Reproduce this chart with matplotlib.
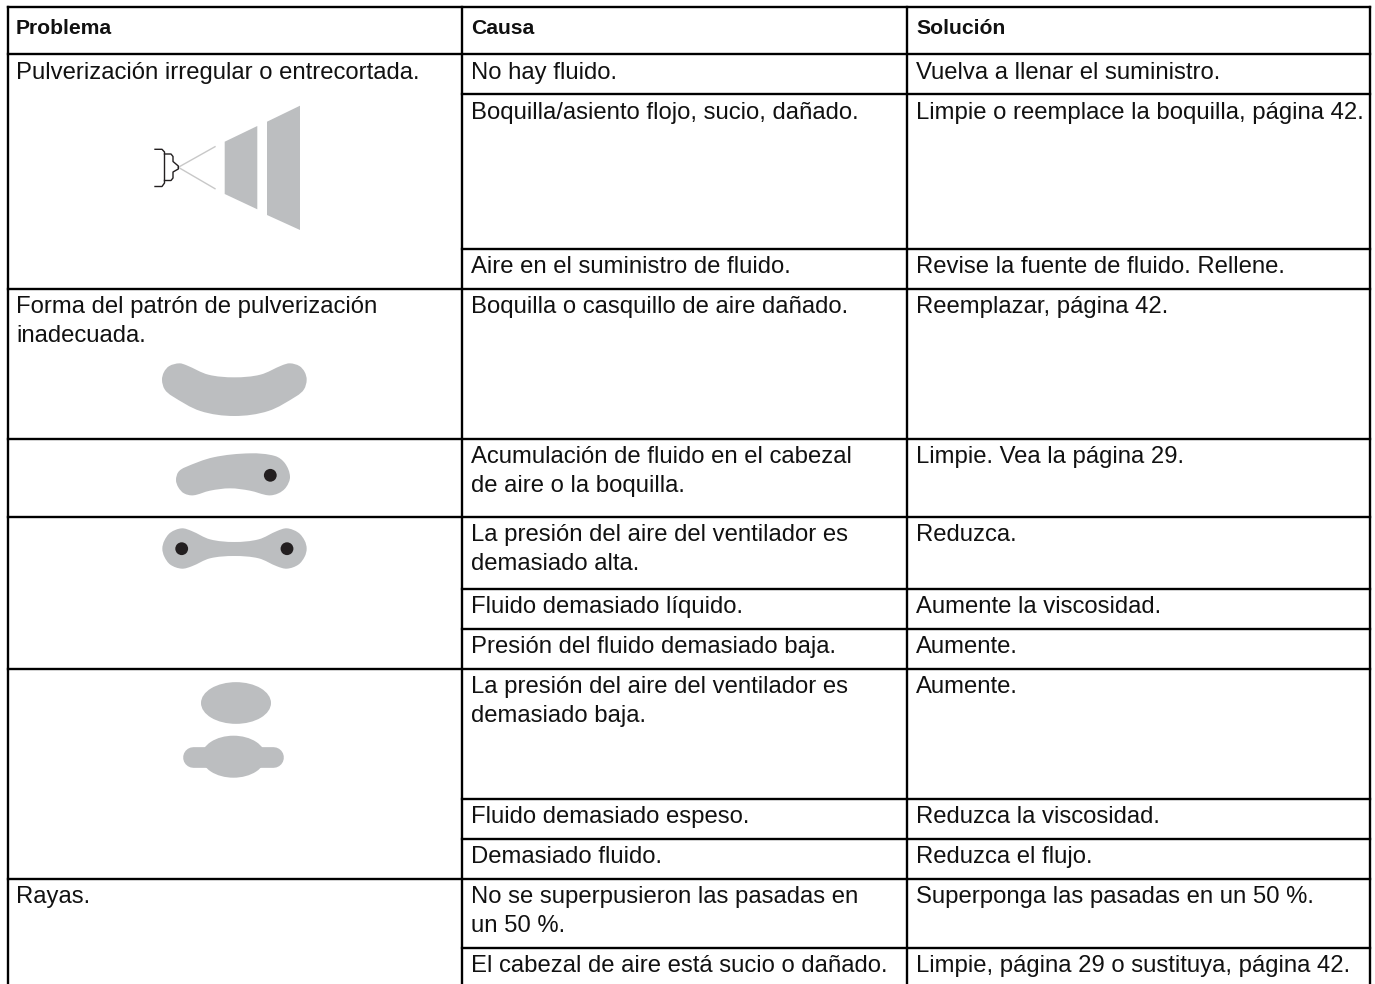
''' troubleshooting table: problema / causa / solucion, with spray pattern sketches '''
import numpy as np
import matplotlib
matplotlib.use("Agg")
import matplotlib.pyplot as plt
from matplotlib.path import Path
from matplotlib.patches import PathPatch, Polygon, Ellipse, Circle

plt.rcParams['font.family'] = ['Liberation Sans', 'DejaVu Sans']

GREY = "#bcbec0"
DARK = "#231f20"
FONT_BODY = 17.2
FONT_HEAD = 15.2
LW = 1.7

# table text
headers = ["Problema", "Causa", "Solución"]
col_x = [8, 462, 907, 1370]
text_x = [16, 471, 916]

row_tops = [54, 94, 249, 289, 439, 517, 589, 629, 669, 799, 839, 879, 947.5]
causes = [
    "No hay fluido.",
    "Boquilla/asiento flojo, sucio, dañado.",
    "Aire en el suministro de fluido.",
    "Boquilla o casquillo de aire dañado.",
    "Acumulación de fluido en el cabezal\nde aire o la boquilla.",
    "La presión del aire del ventilador es\ndemasiado alta.",
    "Fluido demasiado líquido.",
    "Presión del fluido demasiado baja.",
    "La presión del aire del ventilador es\ndemasiado baja.",
    "Fluido demasiado espeso.",
    "Demasiado fluido.",
    "No se superpusieron las pasadas en\nun 50 %.",
    "El cabezal de aire está sucio o dañado.",
]
solutions = [
    "Vuelva a llenar el suministro.",
    "Limpie o reemplace la boquilla, página 42.",
    "Revise la fuente de fluido. Rellene.",
    "Reemplazar, página 42.",
    "Limpie. Vea la página 29.",
    "Reduzca.",
    "Aumente la viscosidad.",
    "Aumente.",
    "Aumente.",
    "Reduzca la viscosidad.",
    "Reduzca el flujo.",
    "Superponga las pasadas en un 50 %.",
    "Limpie, página 29 o sustituya, página 42.",
]
problems = {
    54: "Pulverización irregular o entrecortada.",
    289: "Forma del patrón de pulverización\ninadecuada.",
    879: "Rayas.",
}
# horizontal rules that also cross the first column
full_rules = [54, 289, 439, 517, 669, 879]

# sketches, outline points
fan_near = [(224.7, 141.7), (257.3, 126), (257.3, 209.3), (224.7, 194)]
fan_far = [(267, 121.7), (300, 105.7), (300, 230), (267, 215)]
spray_lines = [[(178.3, 167.3), (215, 146.7)], [(178.3, 167.3), (215, 188.7)]]
nozzle_x = [155, 162, 164.5, 164.5, 162, 155]
nozzle_y = [149.3, 149.3, 152, 183, 186.5, 186.5]
nozzle_tip_x = [164.5, 171, 173, 173, 178.3, 178.3, 173, 173, 171, 164.5]
nozzle_tip_y = [154, 154, 156.5, 161.5, 166, 169, 172, 178, 180.5, 180.5]

banana = [(118, 40), (140, 46), (205, 74), (283, 82), (361, 74), (426, 46), (450, 40),
          (478, 48), (494, 66), (500, 90), (492, 118), (470, 138), (385, 183), (283, 198),
          (181, 183), (96, 138), (74, 118), (66, 90), (72, 66), (88, 48)]
bean = [(135, 352), (220, 322), (330, 310), (405, 318), (435, 340), (450, 380),
        (438, 412), (415, 430), (385, 436), (330, 422), (270, 415), (210, 422), (160, 436),
        (132, 430), (115, 412), (108, 390), (115, 366)]
bone = [(125, 535), (155, 543), (210, 568), (283, 576), (356, 568), (411, 543),
        (441, 535), (475, 548), (494, 572), (500, 596), (494, 620), (475, 644), (441, 656),
        (411, 649), (356, 625), (283, 618), (210, 625), (155, 649), (125, 656),
        (91, 644), (73, 620), (67, 596), (73, 572), (91, 548)]


def smooth_blob(points, origin, scale=3.0):
    """closed smooth outline through points given in zoomed crop pixels"""
    pts = np.array(points, dtype=float) / scale + origin
    n = len(pts)
    tangents = []
    for i in range(n):
        d = pts[(i + 1) % n] - pts[i - 1]
        tangents.append(d / np.linalg.norm(d))
    verts = [pts[0]]
    codes = [Path.MOVETO]
    for i in range(n):
        j = (i + 1) % n
        h = np.linalg.norm(pts[j] - pts[i]) / 3
        verts += [pts[i] + tangents[i] * h, pts[j] - tangents[j] * h, pts[j]]
        codes += [Path.CURVE4] * 3
    return Path(verts, codes)


def draw_text(ax, x, top, text, size=FONT_BODY, weight="normal"):
    # first two rows sit a pixel lower in the cell
    base = top + 24.2 + (1 if top < 100 else 0)
    for i, line in enumerate(text.split("\n")):
        ax.text(x, base + i * 29.2, line, fontsize=size, fontweight=weight,
                va="baseline", ha="left", color="#111111")


fig = plt.figure(figsize=(13.75, 9.84), dpi=100)
ax = fig.add_axes([0, 0, 1, 1])
ax.set_xlim(0, 1375)
ax.set_ylim(984, 0)
ax.axis("off")

# grid of the table
ax.plot([col_x[0], col_x[-1]], [7, 7], color="black", lw=LW)
for x in col_x:
    ax.plot([x, x], [7, 984], color="black", lw=LW)
for y in row_tops:
    start = col_x[0] if y in full_rules else col_x[1]
    ax.plot([start, col_x[-1]], [y, y], color="black", lw=LW)

# text
for x, head in zip(text_x, headers):
    ax.text(x, 33.5, head, fontsize=FONT_HEAD, fontweight="bold", va="baseline", color="#111111")
for top, cause, solution in zip(row_tops, causes, solutions):
    draw_text(ax, text_x[1], top, cause)
    draw_text(ax, text_x[2], top, solution)
for top, problem in problems.items():
    draw_text(ax, text_x[0], top, problem)

# spray sketch
ax.add_patch(Polygon(fan_near, closed=True, fc=GREY, ec="none"))
ax.add_patch(Polygon(fan_far, closed=True, fc=GREY, ec="none"))
for seg in spray_lines:
    ax.plot(*zip(*seg), color="#c8c8c8", lw=1.0)
ax.plot(nozzle_x, nozzle_y, color=DARK, lw=1.0)
ax.plot(nozzle_tip_x, nozzle_tip_y, color=DARK, lw=1.0)

# pattern sketches
origin = np.array([140, 350])
for shape in [banana, bean, bone]:
    ax.add_patch(PathPatch(smooth_blob(shape, origin), fc=GREY, ec="none"))
ax.add_patch(Circle((270.3, 475.3), 6.4, fc=DARK, ec="none"))
ax.add_patch(Circle((181.7, 548.7), 6.4, fc=DARK, ec="none"))
ax.add_patch(Circle((287, 548.7), 6.4, fc=DARK, ec="none"))

ax.add_patch(Ellipse((236, 703), 70, 41.7, fc=GREY, ec="none"))
ax.add_patch(Ellipse((233.5, 756.7), 64, 42, fc=GREY, ec="none"))
ax.plot([193.5, 273.5], [756.7, 756.7], color=GREY, lw=14.9, solid_capstyle="round")
ax.add_patch(Ellipse((233.5, 756.7), 19.5, 12, fc=DARK, ec="none"))

fig.savefig("out.png", dpi=100)
